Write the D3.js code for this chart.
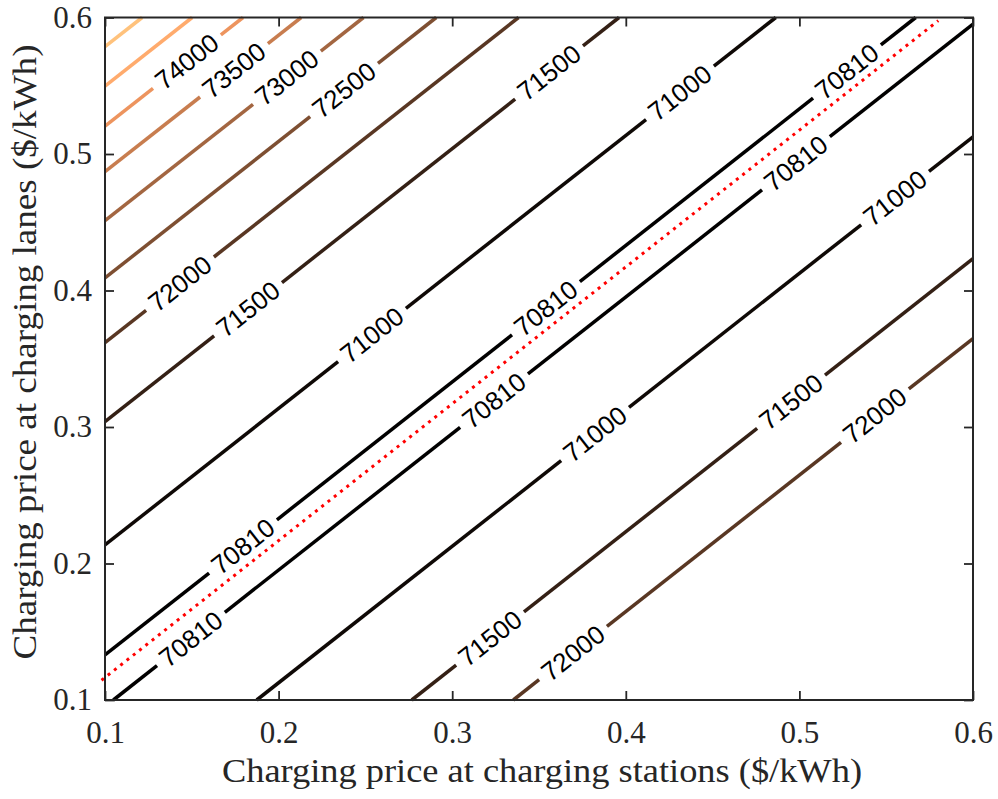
<!DOCTYPE html>
<html>
<head>
<meta charset="utf-8">
<script src="https://cdn.jsdelivr.net/npm/d3@7"></script>
<style>
  body { margin: 0; background: #ffffff; }
  svg { display: block; }
</style>
</head>
<body>
<svg id="chart" width="998" height="799"></svg>
<script>
// Contour levels of total cost; every contour is the straight line y = x + offset
const levels  = [75000, 74500, 74000, 73500, 73000, 72500, 72000, 71500, 71000, 70810, 70810, 71000, 71500, 72000];
const offsets = [0.4786, 0.4498, 0.4205, 0.3870, 0.3511, 0.3092, 0.2618, 0.2039, 0.1136, 0.0330, -0.0048, -0.0874, -0.1767, -0.2352];
// Station-price positions of the inline labels on each contour
const labelAt = [
  [], [], [0.1472], [0.1743], [0.2048], [0.2377], [0.1432],
  [0.1824, 0.3558], [0.2538, 0.4312], [0.1795, 0.3540, 0.5274],
  [0.1495, 0.3241, 0.4980], [0.3823, 0.5551], [0.3218, 0.4952], [0.3696, 0.5435]
];
// Optimal pricing path (red dotted line)
const optimalX = [0.098, 0.580];
const optimalY = [0.1145, 0.5977];
// Axis ticks
const xTicks = [0.1, 0.2, 0.3, 0.4, 0.5, 0.6];
const yTicks = [0.1, 0.2, 0.3, 0.4, 0.5, 0.6];
const xTitle = "Charging price at charging stations ($/kWh)";
const yTitle = "Charging price at charging lanes ($/kWh)";

const svg = d3.select("#chart");
const plotL = 105, plotR = 973, plotT = 17.5, plotB = 700;
const x = d3.scaleLinear().domain([0.1, 0.6]).range([plotL, plotR]);
const y = d3.scaleLinear().domain([0.1, 0.6]).range([plotB, plotT]);

// copper colormap over the cost range
const color = d3.scaleLinear()
  .domain([70800, 70800 + 0.8 * 4300, 75100])
  .range(["#000000", "#ff9f65", "#ffc77f"])
  .clamp(true);

const lineLayer = svg.append("g");
const labelLayer = svg.append("g");

levels.forEach((lev, i) => {
  const c = offsets[i];
  const x0 = Math.max(0.1, 0.1 - c), x1 = Math.min(0.6, 0.6 - c);
  const P0 = [x(x0), y(x0 + c)], P1 = [x(x1), y(x1 + c)];
  const len = Math.hypot(P1[0] - P0[0], P1[1] - P0[1]);
  const u = [(P1[0] - P0[0]) / len, (P1[1] - P0[1]) / len];
  const angle = Math.atan2(u[1], u[0]) * 180 / Math.PI;

  const gaps = [];
  labelAt[i].forEach(lx => {
    const cx = x(lx), cy = y(lx + c);
    const t = labelLayer.append("text")
      .attr("transform", `translate(${cx},${cy}) rotate(${angle})`)
      .attr("text-anchor", "middle")
      .attr("dominant-baseline", "central")
      .attr("font-family", "'Liberation Sans', Arial, sans-serif")
      .attr("font-size", 26)
      .attr("fill", "#000000")
      .text(lev);
    const w = t.node().getComputedTextLength();
    const s = (cx - P0[0]) * u[0] + (cy - P0[1]) * u[1];
    gaps.push([s - w / 2 - 7, s + w / 2 + 7]);
  });
  gaps.sort((a, b) => a[0] - b[0]);

  const pieces = [];
  let start = 0;
  gaps.forEach(g => { if (g[0] > start) pieces.push([start, g[0]]); start = g[1]; });
  if (start < len) pieces.push([start, len]);

  pieces.forEach(p => {
    lineLayer.append("line")
      .attr("x1", P0[0] + u[0] * p[0]).attr("y1", P0[1] + u[1] * p[0])
      .attr("x2", P0[0] + u[0] * p[1]).attr("y2", P0[1] + u[1] * p[1])
      .attr("stroke", color(lev))
      .attr("stroke-width", 3.5);
  });
});

// optimal path
lineLayer.append("path")
  .datum(optimalX.map((v, k) => [v, optimalY[k]]))
  .attr("d", d3.line().x(d => x(d[0])).y(d => y(d[1])))
  .attr("fill", "none")
  .attr("stroke", "#ff0000")
  .attr("stroke-width", 3)
  .attr("stroke-dasharray", "3,5");

// axes with inward ticks on all four sides
const axisColor = "#262626";
const serif = "'Liberation Serif', 'Times New Roman', serif";
function styleAxis(g) {
  g.select(".domain").remove();
  g.selectAll(".tick line").attr("stroke", axisColor).attr("stroke-width", 1.8);
  g.selectAll(".tick text").attr("fill", axisColor).attr("font-family", serif).attr("font-size", 31);
}
svg.append("g").attr("transform", `translate(0,${plotB})`)
  .call(d3.axisBottom(x).tickValues(xTicks).tickSize(-9).tickPadding(21).tickFormat(d3.format(".1f")))
  .call(styleAxis);
svg.append("g").attr("transform", `translate(0,${plotT})`)
  .call(d3.axisTop(x).tickValues(xTicks).tickSize(-9).tickFormat(""))
  .call(styleAxis);
svg.append("g").attr("transform", `translate(${plotL},0)`)
  .call(d3.axisLeft(y).tickValues(yTicks).tickSize(-9).tickPadding(13).tickFormat(d3.format(".1f")))
  .call(styleAxis);
svg.append("g").attr("transform", `translate(${plotR},0)`)
  .call(d3.axisRight(y).tickValues(yTicks).tickSize(-9).tickFormat(""))
  .call(styleAxis);

svg.append("rect")
  .attr("x", plotL).attr("y", plotT)
  .attr("width", plotR - plotL).attr("height", plotB - plotT)
  .attr("fill", "none").attr("stroke", axisColor).attr("stroke-width", 2);

svg.append("text")
  .attr("x", 542).attr("y", 782)
  .attr("text-anchor", "middle")
  .attr("font-family", serif).attr("font-size", 33).attr("fill", axisColor)
  .attr("textLength", 640).attr("lengthAdjust", "spacingAndGlyphs")
  .text(xTitle);
svg.append("text")
  .attr("transform", `translate(36,${352}) rotate(-90)`)
  .attr("text-anchor", "middle")
  .attr("font-family", serif).attr("font-size", 33).attr("fill", axisColor)
  .attr("textLength", 615).attr("lengthAdjust", "spacingAndGlyphs")
  .text(yTitle);
</script>
</body>
</html>
